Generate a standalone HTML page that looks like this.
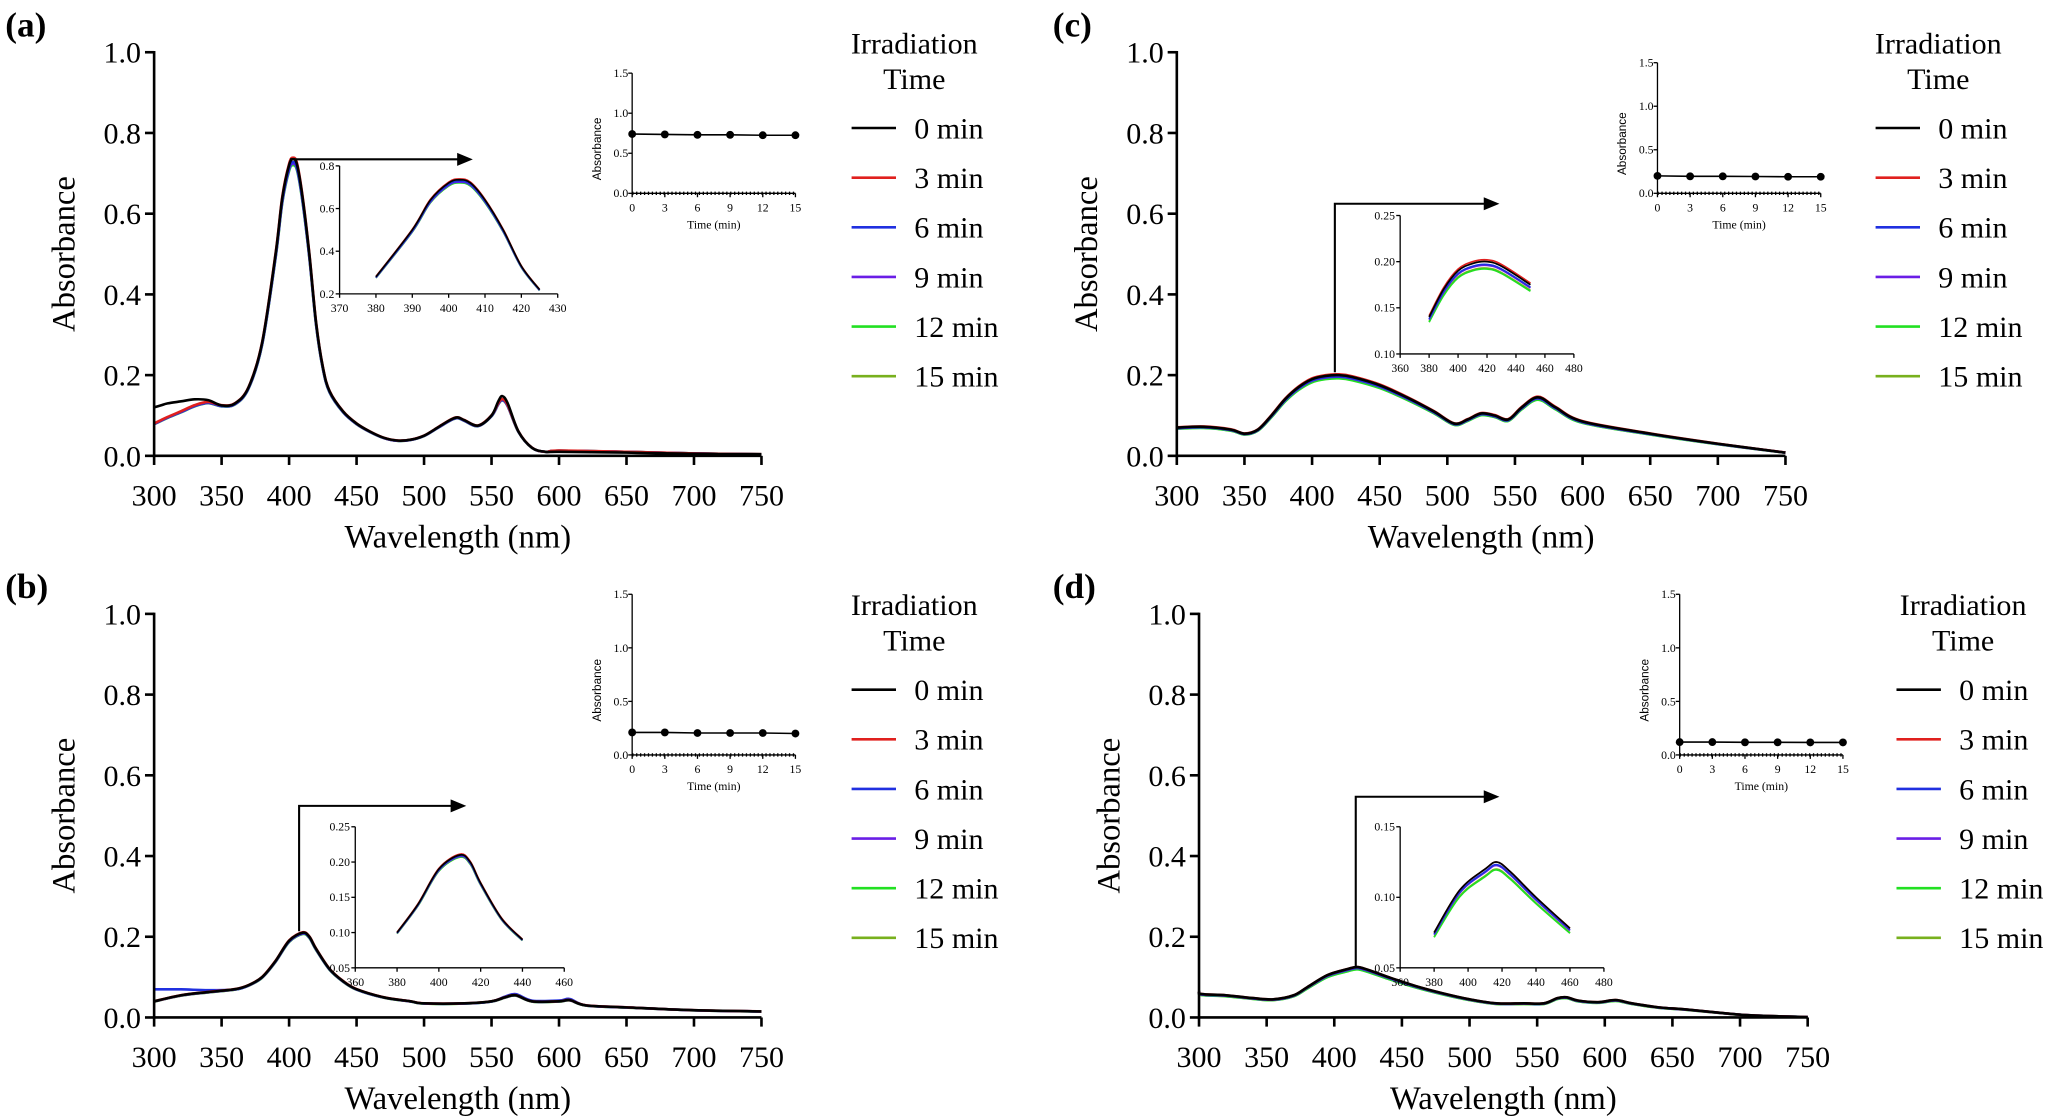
<!DOCTYPE html>
<html><head><meta charset="utf-8">
<style>
html,body{margin:0;padding:0;background:#fff;}
svg{display:block;}
text{font-family:"Liberation Serif",serif;fill:#000;}
.sans{font-family:"Liberation Sans",sans-serif;}
</style></head>
<body>
<svg id="fig" xmlns="http://www.w3.org/2000/svg" width="2048" height="1117" viewBox="0 0 1568 855.2"></svg>
<script>
// ---------- data ----------
const seriesNames = ["0 min","3 min","6 min","9 min","12 min","15 min"];
const seriesColors = ["#000000","#e0201e","#2030e0","#6a1ee6","#22e022","#78b01e"];
const timePoints = [0,3,6,9,12,15];
const mainXTicks = [300,350,400,450,500,550,600,650,700,750];
const mainYTicks = [0.0,0.2,0.4,0.6,0.8,1.0];
const timeXTicks = [0,3,6,9,12,15];
const timeYTicks = [0.0,0.5,1.0,1.5];

const wlA = [300,305,310,320,330,340,350,360,370,380,390,395,400,403,406,410,415,420,425,430,440,450,460,470,480,490,500,510,520,525,530,540,550,555,558,562,570,580,590,600,650,700,750];
const absA0 = [0.12,0.125,0.13,0.135,0.14,0.138,0.125,0.13,0.17,0.28,0.5,0.64,0.72,0.735,0.72,0.64,0.5,0.33,0.22,0.16,0.11,0.08,0.06,0.045,0.038,0.04,0.05,0.07,0.09,0.095,0.088,0.075,0.1,0.135,0.148,0.13,0.06,0.02,0.01,0.01,0.008,0.005,0.004];
const absAc = [0.08,0.088,0.096,0.11,0.125,0.133,0.125,0.13,0.17,0.28,0.5,0.64,0.72,0.735,0.72,0.64,0.5,0.33,0.22,0.16,0.11,0.08,0.06,0.045,0.038,0.04,0.05,0.07,0.09,0.095,0.088,0.075,0.1,0.13,0.14,0.125,0.06,0.02,0.01,0.013,0.01,0.006,0.004];
const factorsA = [1,1.005,0.99,0.985,0.98,0.985];
const timeA = [0.74,0.735,0.73,0.73,0.725,0.725];

const wlB = [300,320,340,360,370,380,390,400,410,415,420,430,440,450,470,490,500,530,550,560,568,580,600,608,620,650,700,750];
const absB0 = [0.04,0.055,0.063,0.07,0.08,0.1,0.14,0.19,0.21,0.2,0.17,0.12,0.09,0.07,0.05,0.04,0.035,0.035,0.04,0.05,0.055,0.04,0.04,0.043,0.03,0.025,0.018,0.015];
const absBc = [0.07,0.07,0.068,0.07,0.08,0.1,0.14,0.19,0.21,0.2,0.17,0.12,0.09,0.07,0.05,0.04,0.035,0.035,0.04,0.052,0.058,0.042,0.042,0.046,0.03,0.025,0.018,0.015];
const factorsB = [1,1.005,0.995,0.99,0.985,0.985];
const timeB = [0.21,0.21,0.205,0.205,0.205,0.2];

const wlC = [300,320,340,350,360,370,380,390,400,410,420,430,450,470,490,505,515,525,535,545,555,567,580,600,650,700,750];
const absC0 = [0.07,0.072,0.065,0.055,0.065,0.1,0.14,0.17,0.19,0.198,0.2,0.195,0.175,0.145,0.11,0.08,0.09,0.105,0.1,0.09,0.12,0.145,0.12,0.085,0.055,0.03,0.008];
const absCc = absC0;
const factorsC = [1,1.01,0.985,0.98,0.96,0.965];
const timeC = [0.2,0.195,0.195,0.193,0.19,0.19];

const wlD = [300,302,320,340,355,370,380,395,410,417,425,440,460,480,500,520,540,555,565,572,580,595,608,620,640,660,690,710,750];
const absD0 = [0.065,0.058,0.055,0.048,0.045,0.055,0.075,0.105,0.12,0.125,0.118,0.1,0.078,0.06,0.045,0.035,0.035,0.035,0.048,0.05,0.042,0.038,0.043,0.035,0.025,0.02,0.01,0.005,0.001];
const absDc = absD0;
const factorsD = [1,1.0,0.985,0.98,0.955,0.96];
const timeD = [0.12,0.12,0.118,0.118,0.117,0.117];

// ---------- helpers ----------
const NS="http://www.w3.org/2000/svg";
const svg=document.getElementById('fig');
function mk(tag,attrs,parent){const e=document.createElementNS(NS,tag);for(const k in attrs)e.setAttribute(k,attrs[k]);(parent||svg).appendChild(e);return e;}
function txt(s,attrs,parent){const e=mk('text',attrs,parent);e.textContent=s;return e;}
function smoothPath(pts){
  if(!pts.length)return '';
  let d='M'+pts[0][0].toFixed(2)+','+pts[0][1].toFixed(2);
  for(let i=0;i<pts.length-1;i++){
    const p0=pts[i-1]||pts[i],p1=pts[i],p2=pts[i+1],p3=pts[i+2]||p2;
    const c1x=p1[0]+(p2[0]-p0[0])/6,c1y=p1[1]+(p2[1]-p0[1])/6;
    const c2x=p2[0]-(p3[0]-p1[0])/6,c2y=p2[1]-(p3[1]-p1[1])/6;
    d+=' C'+c1x.toFixed(2)+','+c1y.toFixed(2)+' '+c2x.toFixed(2)+','+c2y.toFixed(2)+' '+p2[0].toFixed(2)+','+p2[1].toFixed(2);
  }
  return d;
}
function series(cfg,i,lo,hi){
  const b=cfg.alt.indexOf(i)>=0?cfg.bc:cfg.b0;const out=[];
  for(let k=0;k<cfg.wl.length;k++){if(cfg.wl[k]>=lo&&cfg.wl[k]<=hi)out.push([cfg.wl[k],b[k]*cfg.f[i]]);}
  return out;
}

function panel(cfg){
  const g=mk('g',{});
  
  
  const X=v=>cfg.x0+(v-300)/450*(cfg.x1-cfg.x0);
  const Y=v=>cfg.y0-(v)/1.0*(cfg.y0-cfg.y1);
  const lbl=txt('('+cfg.id+')',{x:cfg.lx,y:cfg.ly,'font-size':27,'font-weight':'bold'},g);
  
  
  for(let i=seriesNames.length-1;i>=0;i--){
    const pts=series(cfg,i,300,750).map(p=>[X(p[0]),Y(p[1])]);
    const p=mk('path',{d:smoothPath(pts),fill:'none',stroke:seriesColors[i],'stroke-width':2},g);
    
    
  }
  const ax=mk('path',{d:`M${cfg.x0},${cfg.y1-1}V${cfg.y0}H${cfg.x1}`,fill:'none',stroke:'#000','stroke-width':2},g);
  
  
  mainYTicks.forEach(v=>{
    mk('line',{x1:cfg.x0-7,x2:cfg.x0,y1:Y(v),y2:Y(v),stroke:'#000','stroke-width':2},g);
    const t=txt(v.toFixed(1),{x:cfg.x0-10,y:Y(v)+8,'font-size':23,'text-anchor':'end'},g);
    
    
  });
  mainXTicks.forEach(v=>{
    mk('line',{x1:X(v),x2:X(v),y1:cfg.y0,y2:cfg.y0+7,stroke:'#000','stroke-width':2},g);
    const t=txt(String(v),{x:X(v),y:cfg.y0+38,'font-size':23,'text-anchor':'middle'},g);
    
    
  });
  const yl=txt('Absorbance',{x:0,y:0,'font-size':25,'text-anchor':'middle',transform:`translate(${cfg.x0-61},${(cfg.y0+cfg.y1)/2}) rotate(-90)`},g);
  
  
  const xl=txt('Wavelength (nm)',{x:(cfg.x0+cfg.x1)/2,y:cfg.y0+70,'font-size':25,'text-anchor':'middle'},g);
  
  
  const ar=mk('path',{d:cfg.arrow,fill:'none',stroke:'#000','stroke-width':1.6},g);
  
  
  mk('path',{d:`M${cfg.arrowTip[0]},${cfg.arrowTip[1]} l-12,-5 v10 z`,fill:'#000'},g);
  const zi=cfg.zoom;
  const ig=mk('g',{},g);
  
  
  const ZX=v=>zi.x0+(v-zi.xmin)/(zi.xmax-zi.xmin)*(zi.x1-zi.x0);
  const ZY=v=>zi.y0-(v-zi.ymin)/(zi.ymax-zi.ymin)*(zi.y0-zi.y1);
  for(let i=seriesNames.length-1;i>=0;i--){
    const pts=series(cfg,i,zi.lo,zi.hi).map(p=>[ZX(p[0]),ZY(p[1])]);
    const p=mk('path',{d:smoothPath(pts),fill:'none',stroke:seriesColors[i],'stroke-width':1.3},ig);
    
    
  }
  mk('path',{d:`M${zi.x0},${zi.y1}V${zi.y0}H${zi.x1}`,fill:'none',stroke:'#000','stroke-width':1},ig);
  zi.yt.forEach(v=>{mk('line',{x1:zi.x0-3,x2:zi.x0,y1:ZY(v),y2:ZY(v),stroke:'#000','stroke-width':1},ig);
    txt(v.toFixed(zi.dec),{x:zi.x0-4,y:ZY(v)+3,'font-size':9,'text-anchor':'end'},ig);});
  zi.xt.forEach(v=>{mk('line',{x1:ZX(v),x2:ZX(v),y1:zi.y0,y2:zi.y0+3,stroke:'#000','stroke-width':1},ig);
    txt(String(v),{x:ZX(v),y:zi.y0+14,'font-size':9,'text-anchor':'middle'},ig);});
  const ti=cfg.time;
  const tg=mk('g',{},g);
  
  
  const TX=v=>ti.x0+v/15*(ti.x1-ti.x0);
  const TY=v=>ti.y0-v/1.5*(ti.y0-ti.y1);
  mk('path',{d:`M${ti.x0},${ti.y1}V${ti.y0}H${ti.x1}`,fill:'none',stroke:'#000','stroke-width':1},tg);
  mk('line',{x1:ti.x0,x2:ti.x1,y1:ti.y0,y2:ti.y0,stroke:'#000','stroke-width':2.5,'stroke-dasharray':'1,2'},tg);
  timeYTicks.forEach(v=>{mk('line',{x1:ti.x0-3,x2:ti.x0,y1:TY(v),y2:TY(v),stroke:'#000','stroke-width':1},tg);
    txt(v.toFixed(1),{x:ti.x0-3,y:TY(v)+3,'font-size':9,'text-anchor':'end'},tg);});
  timeXTicks.forEach(v=>{mk('line',{x1:TX(v),x2:TX(v),y1:ti.y0,y2:ti.y0+3,stroke:'#000','stroke-width':1},tg);
    txt(String(v),{x:TX(v),y:ti.y0+14,'font-size':9,'text-anchor':'middle'},tg);});
  txt('Time (min)',{x:(ti.x0+ti.x1)/2,y:ti.y0+27,'font-size':9,'text-anchor':'middle'},tg);
  txt('Absorbance',{x:0,y:0,'font-size':9,'text-anchor':'middle','class':'sans',transform:`translate(${ti.x0-24},${(ti.y0+ti.y1)/2+12}) rotate(-90)`},tg);
  mk('polyline',{points:cfg.t.map((v,k)=>TX(timePoints[k])+','+TY(v)).join(' '),fill:'none',stroke:'#000','stroke-width':1.2},tg);
  cfg.t.forEach((v,k)=>{const c=mk('circle',{cx:TX(timePoints[k]),cy:TY(v),r:3,fill:'#000'},tg);
    
    });
  const lg=mk('g',{},g);
  
  
  const L=cfg.leg;
  txt('Irradiation',{x:L.cx,y:L.y+16,'font-size':23,'text-anchor':'middle'},lg);
  txt('Time',{x:L.cx,y:L.y+43,'font-size':23,'text-anchor':'middle'},lg);
  seriesNames.forEach((n,i)=>{
    const yy=L.y+73+i*38;
    const e=mk('g',{},lg);
    
    
    mk('line',{x1:L.lx,x2:L.lx+34,y1:yy,y2:yy,stroke:seriesColors[i],'stroke-width':2},e);
    txt(n,{x:L.lx+48,y:yy+8,'font-size':23},e);
  });
}

panel({id:'a',lx:4,ly:28,x0:118,x1:583,y0:349,y1:40,wl:wlA,b0:absA0,bc:absAc,f:factorsA,t:timeA,alt:[1,2,3,4,5],
  arrow:'M222,122 H352',arrowTip:[362,122],
  zoom:{x0:260,x1:427,y0:225,y1:127,xmin:370,xmax:430,ymin:0.2,ymax:0.8,lo:380,hi:425,yt:[0.2,0.4,0.6,0.8],xt:[370,380,390,400,410,420,430],dec:1},
  time:{x0:484,x1:609,y0:148,y1:56},leg:{cx:700,lx:652,y:25}});
panel({id:'b',lx:4,ly:458,x0:118,x1:583,y0:779,y1:470,wl:wlB,b0:absB0,bc:absBc,f:factorsB,t:timeB,alt:[2],
  arrow:'M229,713 V617 H347',arrowTip:[357,617],
  zoom:{x0:272,x1:432,y0:741,y1:633,xmin:360,xmax:460,ymin:0.05,ymax:0.25,lo:380,hi:440,yt:[0.05,0.10,0.15,0.20,0.25],xt:[360,380,400,420,440,460],dec:2},
  time:{x0:484,x1:609,y0:578,y1:455},leg:{cx:700,lx:652,y:455}});
panel({id:'c',lx:806,ly:28,x0:901,x1:1367,y0:349,y1:40,wl:wlC,b0:absC0,bc:absCc,f:factorsC,t:timeC,alt:[],
  arrow:'M1022,285 V156 H1138',arrowTip:[1148,156],
  zoom:{x0:1072,x1:1205,y0:271,y1:165,xmin:360,xmax:480,ymin:0.10,ymax:0.25,lo:380,hi:460,yt:[0.10,0.15,0.20,0.25],xt:[360,380,400,420,440,460,480],dec:2},
  time:{x0:1269,x1:1394,y0:148,y1:48},leg:{cx:1484,lx:1436,y:25}});
panel({id:'d',lx:806,ly:458,x0:918,x1:1384,y0:779,y1:470,wl:wlD,b0:absD0,bc:absDc,f:factorsD,t:timeD,alt:[],
  arrow:'M1038,740 V610 H1138',arrowTip:[1148,610],
  zoom:{x0:1072,x1:1228,y0:741,y1:633,xmin:360,xmax:480,ymin:0.05,ymax:0.15,lo:380,hi:460,yt:[0.05,0.10,0.15],xt:[360,380,400,420,440,460,480],dec:2},
  time:{x0:1286,x1:1411,y0:578,y1:455},leg:{cx:1503,lx:1452,y:455}});
</script>
</body></html>
